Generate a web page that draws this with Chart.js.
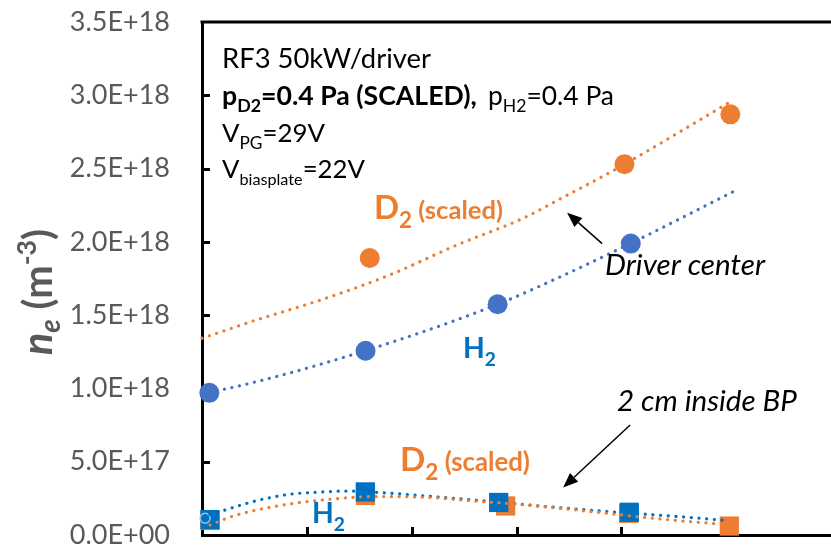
<!DOCTYPE html>
<html>
<head>
<meta charset="utf-8">
<script src="https://cdn.jsdelivr.net/npm/chart.js@4/dist/chart.umd.min.js"></script>
<style>
  html, body { margin: 0; padding: 0; background: #ffffff; }
  #wrap { width: 831px; height: 547px; position: relative; }
</style>
</head>
<body>
<div id="wrap"><canvas id="c" width="831" height="547"></canvas></div>
<script>
// ---- Electron density n_e (m^-3) ----
// Driver center, H2 (filled circles)
const centerH2X = [0.07, 1.56, 2.82, 4.09];
const centerH2Y = [0.97e18, 1.257e18, 1.574e18, 1.988e18];
// Driver center, D2 scaled (filled circles)
const centerD2X = [1.60, 4.03, 5.04];
const centerD2Y = [1.89e18, 2.53e18, 2.87e18];
// 2 cm inside bias plate, H2 (squares)
const bpH2X = [0.076, 1.558, 2.83, 4.076];
const bpH2Y = [0.105e18, 0.294e18, 0.222e18, 0.155e18];
// 2 cm inside bias plate, D2 scaled (squares)
const bpD2X = [0.076, 1.56, 2.896, 4.07, 5.03];
const bpD2Y = [0.10e18, 0.27e18, 0.198e18, 0.148e18, 0.061e18];
// small open ring at the first bias-plate position
const ringX = [0.03];
const ringY = [0.114e18];

// Dotted trend lines
const centerH2TrendX = [0.07, 0.52, 1.16, 2.11, 2.82, 3.30, 4.09, 5.08];
const centerH2TrendY = [0.971e18, 1.046e18, 1.171e18, 1.387e18, 1.574e18, 1.723e18, 1.99e18, 2.347e18];
const centerD2TrendX = [0, 0.52, 1.16, 1.79, 2.43, 3.06, 3.45, 3.92, 5.04];
const centerD2TrendY = [1.342e18, 1.467e18, 1.610e18, 1.774e18, 1.978e18, 2.16e18, 2.306e18, 2.485e18, 2.956e18];
const bpH2TrendX = [0.076, 0.2, 0.52, 0.84, 1.16, 1.38, 1.79, 2.27, 2.59, 3.03, 3.48, 3.89, 4.21, 4.63, 5.01];
const bpH2TrendY = [0.14e18, 0.166e18, 0.234e18, 0.278e18, 0.294e18, 0.30e18, 0.285e18, 0.258e18, 0.239e18, 0.21e18, 0.182e18, 0.159e18, 0.143e18, 0.121e18, 0.098e18];
const bpD2TrendX = [0.076, 0.30, 0.68, 1.0, 1.32, 1.64, 2.11, 2.59, 3.16, 3.64, 4.12, 4.43, 4.88, 5.03];
const bpD2TrendY = [0.068e18, 0.13e18, 0.193e18, 0.227e18, 0.25e18, 0.262e18, 0.258e18, 0.232e18, 0.200e18, 0.165e18, 0.128e18, 0.105e18, 0.078e18, 0.07e18];

// Axis range
const xMin = 0, xMax = 6, xStep = 1;
const yMin = 0, yMax = 3.5e18, yStep = 0.5e18;

const ORANGE = '#ED7D31';
const BLUE_TOP = '#4472C4';
const BLUE_BP = '#0070C0';
const GREY = '#595959';
const FONT = 'Lato, "Open Sans", sans-serif';

const pts = (xs, ys) => xs.map((x, i) => ({ x: x, y: ys[i] }));

function sci(v) {
  const parts = Number(v).toExponential(1).split('e');
  const n = parseInt(parts[1], 10);
  return parts[0] + 'E' + (n < 0 ? '-' : '+') + String(Math.abs(n)).padStart(2, '0');
}

function trend(xs, ys, color, order) {
  return {
    data: pts(xs, ys), showLine: true, pointRadius: 0, borderColor: color,
    borderWidth: 3.2, borderDash: [0.1, 7.6], borderCapStyle: 'round',
    cubicInterpolationMode: 'monotone', fill: false, order: order, clip: false
  };
}
function markers(xs, ys, color, style, radius, order) {
  return {
    data: pts(xs, ys), showLine: false, pointStyle: style, pointRadius: radius,
    pointBackgroundColor: color, pointBorderColor: color, pointBorderWidth: 0,
    order: order, clip: false
  };
}

// Text blocks: offsets (px) from the plot area's top-left corner, block width in px.
// Each block is a list of runs {t, s: nominal size, b: bold, i: italic, dy: baseline shift}.
const textBlocks = [
  { dx: 20, dy: 46, w: 209, color: '#000', runs: [{ t: 'RF3 50kW/driver', s: 27 }] },
  { dx: 20, dy: 83, w: 255, color: '#000', runs: [
      { t: 'p', s: 27, b: 1 }, { t: 'D2', s: 18, b: 1, dy: 7 }, { t: '=0.4 Pa (SCALED),', s: 27, b: 1 } ] },
  { dx: 286, dy: 83, w: 126, color: '#000', runs: [
      { t: 'p', s: 27 }, { t: 'H2', s: 18, dy: 7 }, { t: '=0.4 Pa', s: 27 } ] },
  { dx: 20, dy: 120, w: 103, color: '#000', runs: [
      { t: 'V', s: 27 }, { t: 'PG', s: 18, dy: 7 }, { t: '=29V', s: 27 } ] },
  { dx: 20, dy: 156, w: 143, color: '#000', runs: [
      { t: 'V', s: 27 }, { t: 'biasplate', s: 17, dy: 7 }, { t: '=22V', s: 27 } ] },
  // series labels
  { dx: 172, dy: 197, w: 129, color: ORANGE, runs: [
      { t: 'D', s: 31, b: 1 }, { t: '2', s: 21, b: 1, dy: 8 }, { t: ' (scaled)', s: 24, b: 1 } ] },
  { dx: 261, dy: 336, w: 33, color: BLUE_BP, runs: [
      { t: 'H', s: 31, b: 1 }, { t: '2', s: 21, b: 1, dy: 9 } ] },
  { dx: 198, dy: 449, w: 130, color: ORANGE, runs: [
      { t: 'D', s: 31, b: 1 }, { t: '2', s: 21, b: 1, dy: 8 }, { t: ' (scaled)', s: 24, b: 1 } ] },
  { dx: 110, dy: 501, w: 33, color: BLUE_BP, runs: [
      { t: 'H', s: 31, b: 1 }, { t: '2', s: 21, b: 1, dy: 9 } ] },
  { dx: 403, dy: 253, w: 160, color: '#000', runs: [{ t: 'Driver center', s: 27, i: 1 }] },
  { dx: 415, dy: 389, w: 180, color: '#000', runs: [{ t: '2 cm inside BP', s: 27, i: 1 }] }
];
// Arrows pointing from the location notes to the curves (data units)
const arrows = [
  { x0: 3.817, y0: 1.988e18, x1: 3.483, y1: 2.199e18 },
  { x0: 4.084, y0: 0.751e18, x1: 3.445, y1: 0.324e18 }
];

const fontOf = (r, k) => (r.i ? 'italic ' : '') + (r.b ? 'bold ' : 'normal ') + (r.s * k).toFixed(2) + 'px ' + FONT;

// Draw a run list starting at (x, y); when width is given the runs are scaled to span it.
function drawRuns(ctx, x, y, runs, color, width) {
  let k = 1;
  if (width) {
    let w0 = 0;
    runs.forEach(r => { ctx.font = fontOf(r, 1); w0 += ctx.measureText(r.t).width; });
    k = width / w0;
  }
  let cx = x;
  runs.forEach(r => {
    ctx.font = fontOf(r, k);
    ctx.fillStyle = color;
    ctx.fillText(r.t, cx, y + (r.dy || 0) * k);
    cx += ctx.measureText(r.t).width;
  });
}

const framePlugin = {
  id: 'frame',
  beforeDatasetsDraw(chart) {
    const { ctx, chartArea: a, scales: { x, y } } = chart;
    ctx.save();
    ctx.strokeStyle = '#000';
    ctx.lineWidth = 3;
    ctx.lineCap = 'butt';
    // top frame line
    ctx.beginPath();
    ctx.moveTo(a.left - 1.5, a.top);
    ctx.lineTo(a.right, a.top);
    ctx.stroke();
    // inward tick marks
    ctx.beginPath();
    for (let v = yMin + yStep; v < yMax - 1; v += yStep) {
      const py = Math.round(y.getPixelForValue(v)) + 0.5;
      ctx.moveTo(a.left, py);
      ctx.lineTo(a.left + 8, py);
    }
    for (let v = xMin + xStep; v < xMax; v += xStep) {
      const px = Math.round(x.getPixelForValue(v)) + 0.5;
      ctx.moveTo(px, a.bottom);
      ctx.lineTo(px, a.bottom - 8);
    }
    ctx.stroke();
    ctx.restore();
  },
  afterDraw(chart) {
    const { ctx, chartArea: a, scales: { x, y } } = chart;
    ctx.save();
    ctx.textAlign = 'left';
    ctx.textBaseline = 'alphabetic';
    textBlocks.forEach(b => drawRuns(ctx, a.left + b.dx, a.top + b.dy, b.runs, b.color, b.w));

    // arrows
    arrows.forEach(ar => {
      const x0 = x.getPixelForValue(ar.x0), y0 = y.getPixelForValue(ar.y0);
      const x1 = x.getPixelForValue(ar.x1), y1 = y.getPixelForValue(ar.y1);
      const ang = Math.atan2(y1 - y0, x1 - x0);
      const L = 15, W = 6;
      const bx = x1 - L * Math.cos(ang), by = y1 - L * Math.sin(ang);
      ctx.strokeStyle = '#000';
      ctx.lineWidth = 1.5;
      ctx.beginPath();
      ctx.moveTo(x0, y0);
      ctx.lineTo(bx, by);
      ctx.stroke();
      ctx.fillStyle = '#000';
      ctx.beginPath();
      ctx.moveTo(x1, y1);
      ctx.lineTo(bx + W * Math.sin(ang), by - W * Math.cos(ang));
      ctx.lineTo(bx - W * Math.sin(ang), by + W * Math.cos(ang));
      ctx.closePath();
      ctx.fill();
    });

    // y axis title: n_e (m^-3), read bottom to top
    ctx.translate(52, 355);
    ctx.rotate(-Math.PI / 2);
    drawRuns(ctx, 0, 0, [
      { t: 'n', s: 37, b: 1, i: 1 }, { t: 'e', s: 25, b: 1, i: 1, dy: 7 },
      { t: ' (m', s: 36, b: 1 }, { t: '-3', s: 24, b: 1, dy: -14 },
      { t: ')', s: 36, b: 1 }
    ], GREY, 126);
    ctx.restore();
  }
};

new Chart(document.getElementById('c'), {
  type: 'scatter',
  data: {
    datasets: [
      markers(centerH2X, centerH2Y, BLUE_TOP, 'circle', 10, 2),
      markers(centerD2X, centerD2Y, ORANGE, 'circle', 10, 2),
      trend(centerH2TrendX, centerH2TrendY, BLUE_TOP, 3),
      trend(centerD2TrendX, centerD2TrendY, ORANGE, 3),
      markers(bpD2X, bpD2Y, ORANGE, 'rect', 13.6, 6),
      markers(bpH2X, bpH2Y, BLUE_BP, 'rect', 13.6, 5),
      {
        data: pts(ringX, ringY), showLine: false, pointStyle: 'circle', pointRadius: 5,
        pointBackgroundColor: 'rgba(0,0,0,0)', pointBorderColor: '#9DC3E6', pointBorderWidth: 1.5,
        order: 4, clip: false
      },
      trend(bpH2TrendX, bpH2TrendY, BLUE_BP, 1),
      trend(bpD2TrendX, bpD2TrendY, ORANGE, 0)
    ]
  },
  options: {
    responsive: false,
    animation: false,
    devicePixelRatio: 1,
    layout: { autoPadding: false, padding: { top: 22, right: 0, bottom: 0, left: 0 } },
    plugins: { legend: { display: false }, tooltip: { enabled: false } },
    scales: {
      x: {
        type: 'linear', position: 'bottom', min: xMin, max: xMax,
        ticks: { display: false, stepSize: xStep },
        grid: { display: false, drawTicks: false },
        border: { display: true, color: '#000', width: 3 },
        afterFit(s) { s.height = 12; s.paddingLeft = 0; s.paddingRight = 0; }
      },
      y: {
        type: 'linear', min: yMin, max: yMax,
        ticks: {
          stepSize: yStep, padding: 32, color: GREY,
          font: { family: FONT, size: 27 },
          callback: v => sci(v)
        },
        grid: { display: false, drawTicks: false },
        border: { display: true, color: '#000', width: 3 },
        afterFit(s) { s.width = 202; s.paddingTop = 0; s.paddingBottom = 0; }
      }
    }
  },
  plugins: [framePlugin]
});
</script>
</body>
</html>
